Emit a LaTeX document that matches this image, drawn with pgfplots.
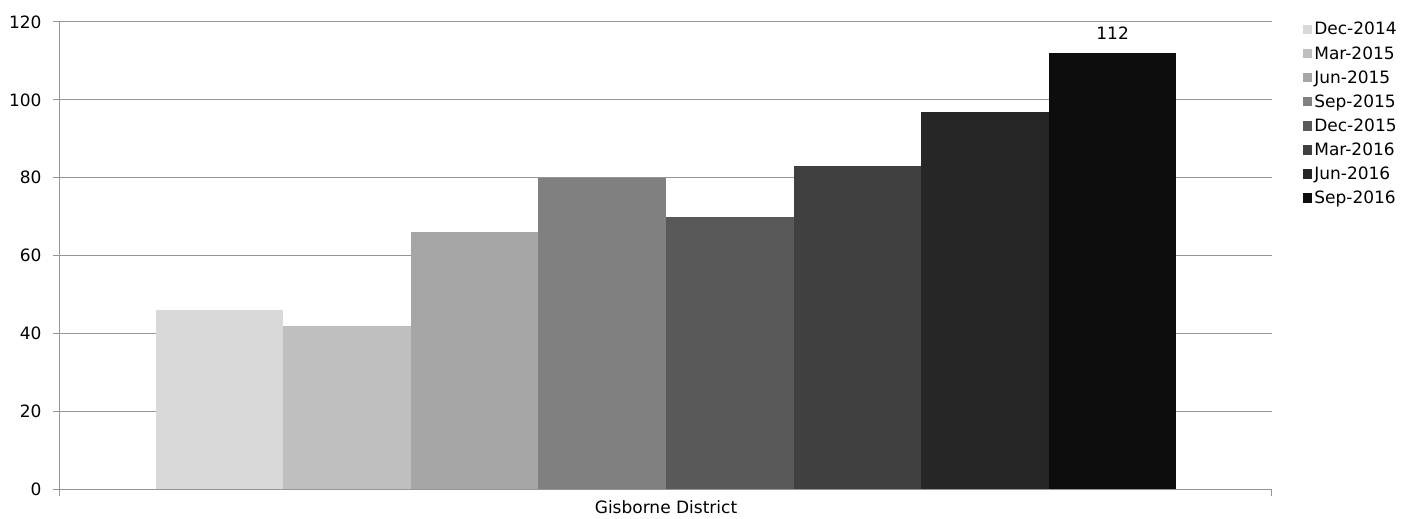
\documentclass[border=0pt]{standalone}
\usepackage{pgfplots}
\pgfplotsset{compat=1.18}
\usepackage{fontspec}
\setmainfont{DejaVu Sans}
\definecolor{c1}{HTML}{D9D9D9}
\definecolor{c2}{HTML}{BFBFBF}
\definecolor{c3}{HTML}{A6A6A6}
\definecolor{c4}{HTML}{808080}
\definecolor{c5}{HTML}{595959}
\definecolor{c6}{HTML}{404040}
\definecolor{c7}{HTML}{262626}
\definecolor{c8}{HTML}{0D0D0D}
\definecolor{gridc}{HTML}{959595}
\begin{document}
\begin{tikzpicture}
\begin{axis}[
  scale only axis, width=1212bp, height=467bp,
  clip=false,
  ybar=0pt, bar width=127.6bp,
  xmin=-1, xmax=1, ymin=0, ymax=120,
  ytick={0,20,...,120},
  xtick={-1,1}, xticklabels={,},
  extra x ticks={0}, extra x tick labels={Gisborne District},
  extra x tick style={major tick length=0pt, grid=none},
  axis x line*=bottom, axis y line*=left,
  axis line style={draw=gridc, line width=1bp, -},
  ymajorgrids, grid style={draw=gridc, line width=1bp},
  tick align=outside, major tick length=7bp,
  tick style={draw=gridc, line width=1bp},
  font=\fontsize{17bp}{20bp}\selectfont,
  /pgf/number format/assume math mode=true,
  yticklabel style={font=\fontsize{17bp}{20bp}\selectfont, xshift=-8bp},
  xticklabel style={font=\fontsize{17bp}{20bp}\selectfont, yshift=-8bp},
  legend style={at={(1.0253,1.004)}, anchor=north west, draw=none, fill=none,
    inner sep=0pt, row sep=6bp, font=\fontsize{17bp}{20bp}\selectfont},
  legend cell align=left,
  legend image code/.code={\fill[#1] (-3bp,-4.8bp) rectangle (6.5bp,4.7bp);},
]
\pgfplotsinvokeforeach{0,20,40,60,80,100,120}{
  \draw[gridc, line width=1bp] (axis cs:-1,#1) -- ([xshift=-7bp]axis cs:-1,#1);
}
\addplot[fill=c1, draw=none] coordinates {(0,46)};
\addplot[fill=c2, draw=none] coordinates {(0,42)};
\addplot[fill=c3, draw=none] coordinates {(0,66)};
\addplot[fill=c4, draw=none] coordinates {(0,80)};
\addplot[fill=c5, draw=none] coordinates {(0,70)};
\addplot[fill=c6, draw=none] coordinates {(0,83)};
\addplot[fill=c7, draw=none] coordinates {(0,97)};
\addplot[fill=c8, draw=none, nodes near coords, nodes near coords style={font=\fontsize{17bp}{20bp}\selectfont, text=black, yshift=10bp}] coordinates {(0,112)};
\legend{Dec-2014,Mar-2015,Jun-2015,Sep-2015,Dec-2015,Mar-2016,Jun-2016,Sep-2016}
\end{axis}
\path[use as bounding box] (-60bp,-30bp) rectangle (1342bp,489bp);
\end{tikzpicture}
\end{document}
